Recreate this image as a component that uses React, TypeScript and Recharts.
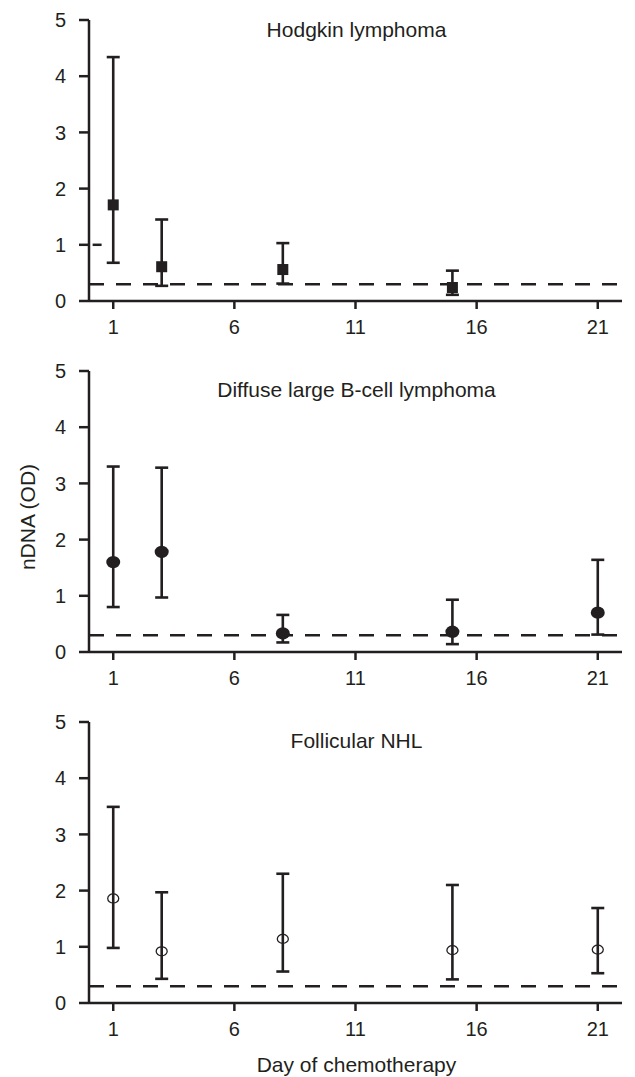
import { ScatterChart, Scatter, XAxis, YAxis, ErrorBar, ReferenceLine, Label } from 'recharts';

const INK = '#231f20';
const FONT = '"Liberation Sans", Arial, Helvetica, sans-serif';

const X_TICKS = [1, 6, 11, 16, 21];
const Y_TICKS = [0, 1, 2, 3, 4, 5];
const CUTOFF = 0.3;

// Hodgkin lymphoma (no day 21 sample)
const HODGKIN_DAYS = [1, 3, 8, 15];
const HODGKIN_MEAN = [1.71, 0.61, 0.56, 0.24];
const HODGKIN_LOW = [0.68, 0.27, 0.31, 0.11];
const HODGKIN_HIGH = [4.34, 1.45, 1.03, 0.54];

// Diffuse large B-cell lymphoma
const DLBCL_DAYS = [1, 3, 8, 15, 21];
const DLBCL_MEAN = [1.6, 1.78, 0.33, 0.36, 0.7];
const DLBCL_LOW = [0.8, 0.97, 0.17, 0.14, 0.31];
const DLBCL_HIGH = [3.3, 3.28, 0.66, 0.93, 1.64];

// Follicular NHL
const FNHL_DAYS = [1, 3, 8, 15, 21];
const FNHL_MEAN = [1.86, 0.92, 1.14, 0.94, 0.95];
const FNHL_LOW = [0.98, 0.43, 0.56, 0.42, 0.53];
const FNHL_HIGH = [3.49, 1.97, 2.3, 2.1, 1.69];

const toRows = (days: number[], mean: number[], low: number[], high: number[]) =>
  days.map((day, i) => ({
    day,
    mean: mean[i],
    err: [mean[i] - low[i], high[i] - mean[i]],
  }));

const squareShape = (p: any) => (
  <rect x={p.cx - 5.5} y={p.cy - 5.5} width={11} height={11} fill={INK} />
);
const dotShape = (p: any) => <ellipse cx={p.cx} cy={p.cy} rx={7} ry={6.2} fill={INK} />;
const ringShape = (p: any) => (
  <ellipse cx={p.cx} cy={p.cy} rx={5.5} ry={4.5} fill="none" stroke={INK} strokeWidth={1.3} />
);

interface PanelProps {
  title: string;
  titleY: number;
  rows: any[];
  shape: (p: any) => any;
  height: number;
  xLabel?: string;
  yLabel?: string;
  stray?: boolean;
}

function Panel({ title, titleY, rows, shape, height, xLabel, yLabel, stray }: PanelProps) {
  const tickStyle = { fill: INK, fontSize: 20, fontFamily: FONT };
  const lineStyle = { stroke: INK, strokeWidth: 2.5 };
  return (
    <ScatterChart width={635} height={height} margin={{ top: 20, right: 13, bottom: 0, left: 0 }}>
      <XAxis
        type="number"
        dataKey="day"
        domain={[0, 22]}
        ticks={X_TICKS}
        height={height - 301}
        tickSize={8}
        tickMargin={11}
        axisLine={lineStyle}
        tickLine={lineStyle}
        tick={tickStyle}
        allowDataOverflow
      >
        {xLabel && (
          <Label
            content={() => (
              <text x={356.5} y={370} textAnchor="middle" fill={INK} fontSize={21} fontFamily={FONT}>
                {xLabel}
              </text>
            )}
          />
        )}
      </XAxis>
      <YAxis
        type="number"
        dataKey="mean"
        domain={[0, 5]}
        ticks={Y_TICKS}
        width={89}
        tickSize={10}
        tickMargin={13}
        axisLine={lineStyle}
        tickLine={lineStyle}
        tick={tickStyle}
        allowDataOverflow
      >
        <Label
          content={() => (
            <text x={356.5} y={titleY} textAnchor="middle" fill={INK} fontSize={21} fontFamily={FONT}>
              {title}
            </text>
          )}
        />
        {yLabel && (
          <Label
            content={() => (
              <text
                x={35}
                y={166}
                transform="rotate(-90, 35, 166)"
                textAnchor="middle"
                fill={INK}
                fontSize={21}
                fontFamily={FONT}
              >
                {yLabel}
              </text>
            )}
          />
        )}
      </YAxis>
      <ReferenceLine y={CUTOFF} stroke={INK} strokeWidth={2.5} strokeDasharray="15 12" />
      {stray && (
        <ReferenceLine
          segment={[
            { x: 0.15, y: 1 },
            { x: 0.52, y: 1 },
          ]}
          stroke={INK}
          strokeWidth={2.5}
        />
      )}
      <Scatter data={rows} shape={shape} isAnimationActive={false}>
        <ErrorBar
          dataKey="err"
          direction="y"
          width={6.5}
          stroke={INK}
          strokeWidth={2.6}
          style={{ strokeWidth: 2.6 }}
          isAnimationActive={false}
        />
      </Scatter>
    </ScatterChart>
  );
}

export default function App() {
  return (
    <div style={{ position: 'absolute', left: 0, top: 0, width: 635, height: 1077, background: '#fff' }}>
      <Panel
        title="Hodgkin lymphoma"
        titleY={37}
        rows={toRows(HODGKIN_DAYS, HODGKIN_MEAN, HODGKIN_LOW, HODGKIN_HIGH)}
        shape={squareShape}
        height={351}
        stray
      />
      <Panel
        title="Diffuse large B-cell lymphoma"
        titleY={46}
        rows={toRows(DLBCL_DAYS, DLBCL_MEAN, DLBCL_LOW, DLBCL_HIGH)}
        shape={dotShape}
        height={351}
        yLabel="nDNA (OD)"
      />
      <Panel
        title="Follicular NHL"
        titleY={46}
        rows={toRows(FNHL_DAYS, FNHL_MEAN, FNHL_LOW, FNHL_HIGH)}
        shape={ringShape}
        height={375}
        xLabel="Day of chemotherapy"
      />
    </div>
  );
}
